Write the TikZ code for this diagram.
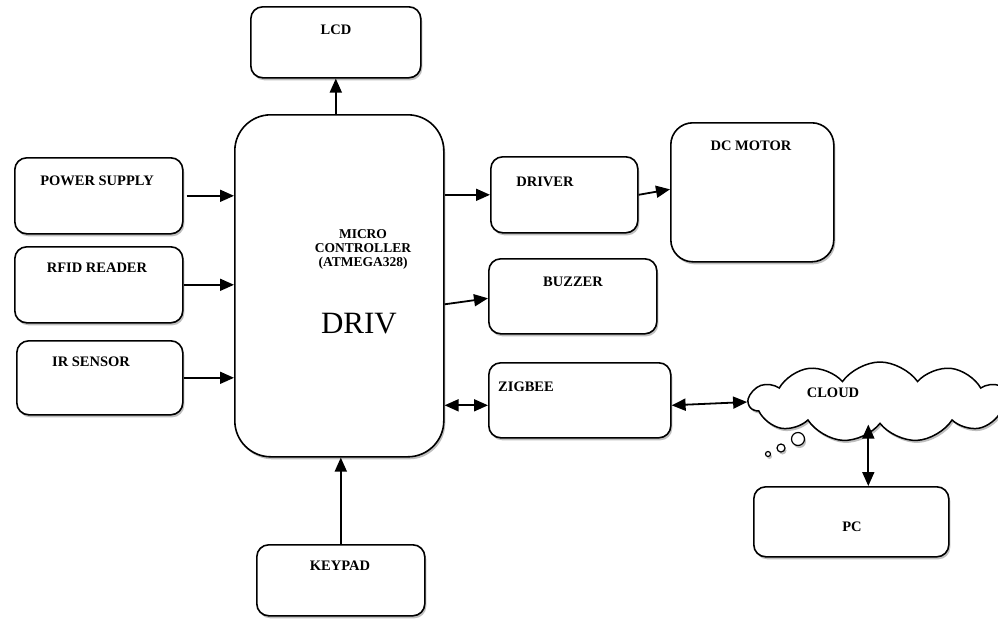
\documentclass[tikz,border=0pt]{standalone}
\usepackage{fontspec}
\setmainfont{Liberation Serif}
\usetikzlibrary{arrows.meta,shapes.symbols,shadows}
\begin{document}
\begin{tikzpicture}[x=1pt,y=-1pt,
  shd/.style={drop shadow={shadow xshift=1.5pt,shadow yshift=-2.5pt,opacity=0.25,fill=black}},
  box/.style={draw=black,line width=1.6pt,fill=white,rounded corners=12pt,anchor=north west,inner sep=0pt,shd},
  lbl/.style={font=\fontsize{14.5}{16}\selectfont\bfseries,inner sep=0pt,anchor=center},
  arr/.style={line width=1.8pt,-{Triangle[length=14pt,width=12pt]}},
  dbl/.style={line width=1.8pt,{Triangle[length=14pt,width=12pt]}-{Triangle[length=14pt,width=12pt]}}
]
\useasboundingbox (0,0) rectangle (998,619);
\fill[white] (0,0) rectangle (998,619);

% boxes
\node[box,minimum width=170pt,minimum height=71pt] (lcd) at (250,6) {};
\node[box,minimum width=209pt,minimum height=342pt,rounded corners=36pt] (mc) at (234,114) {};
\node[box,minimum width=168pt,minimum height=76pt] (ps) at (14,157) {};
\node[box,minimum width=168pt,minimum height=76pt] (rf) at (14,246) {};
\node[box,minimum width=166pt,minimum height=74pt] (ir) at (16,340) {};
\node[box,minimum width=168pt,minimum height=71pt] (kp) at (256,544) {};
\node[box,minimum width=147pt,minimum height=76pt] (drv) at (490,156) {};
\node[box,minimum width=163pt,minimum height=139pt,rounded corners=22pt] (dcm) at (670,122) {};
\node[box,minimum width=168pt,minimum height=75pt] (bz) at (488,258) {};
\node[box,minimum width=182pt,minimum height=75pt] (zb) at (488,362) {};
\node[box,minimum width=195pt,minimum height=70pt] (pc) at (753,486) {};

% cloud
\node[cloud,draw=black,line width=1.5pt,fill=white,cloud puffs=11,cloud puff arc=110,aspect=3.2,
      minimum width=262pt,minimum height=80pt,inner sep=0pt,shd] (cl) at (880,402) {};
\node[circle,draw=black,line width=1.2pt,fill=white,minimum size=13pt,inner sep=0pt,shd] (b1) at (798,439) {};
\node[circle,draw=black,line width=1.2pt,fill=white,minimum size=8pt,inner sep=0pt,shd] (b2) at (781,448) {};
\node[circle,draw=black,line width=1.2pt,fill=white,minimum size=5pt,inner sep=0pt,shd] (b3) at (768,454) {};

% texts
\node[lbl] (lcdT) at (336,30) {LCD};
\node[lbl,font=\fontsize{13.5}{16}\selectfont\bfseries,align=center] (mcT) at (363,249) {MICRO\\[-2pt]CONTROLLER\\[-2pt](ATMEGA328)};
\node[lbl,font=\fontsize{31}{34}\selectfont] (drivT) at (359,324) {DRIV};
\node[lbl] (psT) at (97,181) {POWER SUPPLY};
\node[lbl] (rfT) at (97,268) {RFID READER};
\node[lbl] (irT) at (91,362) {IR SENSOR};
\node[lbl] (kpT) at (340,566) {KEYPAD};
\node[lbl] (drvT) at (545,182) {DRIVER};
\node[lbl] (dcmT) at (751,146) {DC MOTOR};
\node[lbl] (bzT) at (573,282) {BUZZER};
\node[lbl] (zbT) at (526,387) {ZIGBEE};
\node[lbl] (clT) at (833,393) {CLOUD};
\node[lbl] (pcT) at (852,527) {PC};

% connectors
\draw[arr] (mc.north -| lcd.south) -- (lcd.south);
\draw[arr] ([xshift=3pt]ps.east) -- (mc.west |- ps.east);
\draw[arr] (rf.east) -- (mc.west |- rf.east);
\draw[arr] (ir.east) -- (mc.west |- ir.east);
\draw[arr] (kp.north) -- (kp.north |- mc.south);
\draw[arr] (mc.east |- drv.west) -- (drv.west);
\draw[arr] (drv.east) -- ([yshift=3pt]dcm.west);
\draw[arr] ([yshift=-8pt]mc.east |- bz.west) -- ([yshift=-2pt]bz.west);
\draw[dbl] ([yshift=-5pt]mc.east |- zb.west) -- ([yshift=-5pt]zb.west);
\draw[dbl] ([yshift=-5pt]zb.east) -- (cl.west);
\draw[dbl] ([xshift=17pt]pc.north) -- ([xshift=17pt]pc.north |- cl.south);
\end{tikzpicture}
\end{document}
